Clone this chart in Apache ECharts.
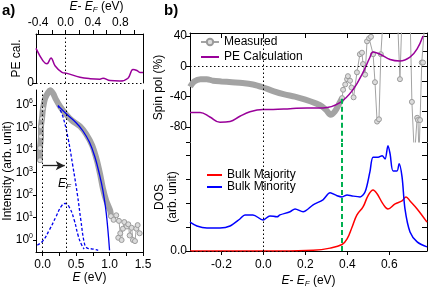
<!DOCTYPE html>
<html><head><meta charset="utf-8">
<script src="https://cdn.jsdelivr.net/npm/echarts@6/dist/echarts.min.js"></script>
<style>html,body{margin:0;padding:0;background:#fff}#c{width:436px;height:289px}</style>
</head><body><div id="c"></div>
<script>
// ---------- Panel a (top): PE calculation vs E-EF ----------
const peA_E = [-0.43,-0.328,-0.27,-0.211,-0.153,-0.051,0.022,0.211,0.357,0.503,0.547,0.649,0.794,0.911,0.984,1.042,1.086,1.13];
const peA_V = [3.6,2.3,2.0,2.6,1.8,1.1,1.0,0.6,0.45,0.4,0.5,0.25,0.2,0.5,1.4,1.3,1.1,1.1];
const aTopLabels = [-0.4,0,0.4,0.8];
const aTopTicks = [-0.4,-0.2,0,0.2,0.4,0.6,0.8,1.0];

// ---------- Panel a (bottom): intensity vs E ----------
const measA_E = [-0.04,-0.04,-0.025,-0.025,-0.01,0.005,0.035,0.08,0.11,0.155,0.2,0.26,0.35,0.44,0.56,0.65,0.74,0.81,0.86,0.9,0.95,1.01,1.02];
const measA_I = [3.5e3,1.2e4,4.0e4,1.1e5,2.5e5,6.9e5,1.9e6,3.5e6,4.4e6,3.2e6,1.7e6,8.5e5,3.8e5,2.0e5,1.1e5,5.0e4,1.6e4,3.5e3,8.0e2,2.0e2,56,20,11.5];
const tailA_E = [1.02,1.06,1.1,1.14,1.16,1.13,1.18,1.2,1.22,1.26,1.28,1.3,1.33,1.35,1.38,1.4,1.42,1.45];
const tailA_I = [11.5,7.9,12.6,7.1,2.0,1.26,1.0,3.2,6.3,4.0,5.0,1.6,3.5,1.0,0.9,3.2,4.6,2.0];
const fitA_E = [0.23,0.36,0.5,0.6,0.7,0.78,0.85,0.9,0.95,1.0];
const fitA_I = [9.3e5,3.8e5,1.6e5,7.1e4,2.2e4,5.0e3,8.0e2,1.6e2,16,0.35];
const steepA_E = [0.23,0.3,0.38,0.45,0.52,0.57,0.62,0.66,0.75,0.83];
const steepA_I = [9.3e5,3.2e5,3.2e4,2.0e3,100,7.9,0.8,0.45,0.4,0.35];
const gaussA_E = [-0.08,0.0,0.1,0.2,0.28,0.34,0.4,0.47,0.53,0.58,0.62];
const gaussA_I = [0.6,0.9,2.8,11,32,42,28,8,1.6,0.63,0.4];
const aBotLabels = [0,0.5,1.0,1.5];
const aBotTicks = [0,0.25,0.5,0.75,1.0,1.25,1.5];
const aLogTicks = [1,10,100,1e3,1e4,1e5,1e6];
const EF = 0.35;
const arrowY = 2000, arrowFrom = 0.0, arrowTo = 0.33;

// ---------- Panel b (top): spin polarisation ----------
const spin_E = [-0.35,-0.33,-0.30,-0.27,-0.24,-0.20,-0.15,-0.10,-0.05,0.0,0.05,0.10,0.15,0.20,0.25,0.28,0.30,0.32,0.34,0.36,0.375];
const spin_V = [-27,-20,-17,-17,-19,-20,-21,-22,-24,-28,-33,-37,-40,-44,-49,-53,-58,-64,-60,-50,-42];
const spinTail_E = [0.375,0.38,0.39,0.399,0.403,0.413,0.42,0.43,0.446,0.46,0.47,0.475,0.485,0.494,0.504,0.513,0.523,0.532,0.542,0.551,0.56,0.57,0.64,0.651,0.66,0.70,0.708,0.72,0.733,0.737,0.742,0.747,0.755,0.761,0.77];
const spinTail_V = [-42,-31,-24,-17,-13,-19,-28,-41,-8,16,18,3,-11,33,37,39,16,-21,-73,-70,16,60,60,-17,60,60,-47,-120,-68,-71,-120,-71,5,5,60];
const pe_E = [-0.35,-0.302,-0.255,-0.207,-0.159,-0.112,-0.064,-0.002,0.046,0.127,0.208,0.284,0.365,0.427,0.475,0.508,0.523,0.556,0.604,0.651,0.699,0.733,0.761];
const pe_V = [-61,-61,-67,-74,-73,-66,-60,-57,-57,-56,-55,-55,-48,-31,-8,12,19,16,9,7,12,23,40];
const spinLabels = [-80,-40,0,40];
const bTicks = [-0.2,0,0.2,0.4,0.6];
const greenE = 0.375, greenTop = -43;

// ---------- Panel b (bottom): DOS ----------
const min_E = [-0.35,-0.317,-0.269,-0.207,-0.159,-0.112,-0.088,-0.05,-0.002,0.031,0.065,0.079,0.127,0.151,0.189,0.237,0.284,0.318,0.351,0.375,0.399,0.423,0.461,0.485,0.508,0.523,0.547,0.566,0.58,0.594,0.604,0.618,0.637,0.647,0.661,0.675,0.699,0.733,0.78];
const min_V = [1.2,1.04,0.96,0.96,1.04,1.33,1.5,1.5,1.29,1.46,1.42,1.5,1.63,1.75,1.63,1.92,2.13,2.42,2.3,2.25,2.33,2.29,2.25,2.46,3.3,3.9,3.9,3.96,3.83,4.38,4.04,3.33,3.33,3.63,3.08,1.75,0.79,0.38,0.17];
const maj_E = [-0.35,0.079,0.237,0.318,0.375,0.399,0.423,0.446,0.475,0.499,0.523,0.542,0.57,0.594,0.628,0.661,0.68,0.699,0.733,0.78];
const maj_V = [0.0,0.0,0.03,0.12,0.27,0.5,1.0,1.5,1.83,2.3,2.54,2.38,1.96,1.75,1.96,2.08,2.25,2.08,1.75,1.2];
const dosTicks = [0,1,2,3,4];

const zip = (a,b) => a.map((v,i)=>[v,b[i]]);
const FONT = 'Liberation Sans, Arial, sans-serif';
const BLACK = '#000';
const GREY = '#a3a3a3';
const PURPLE = '#990099';
const ts = {fontFamily: FONT, fontSize: 12, color: BLACK};
const richE = {
  i:{fontFamily:FONT,fontSize:12,fontStyle:'italic',color:BLACK},
  n:{fontFamily:FONT,fontSize:12,color:BLACK},
  sub:{fontFamily:FONT,fontSize:8,fontStyle:'italic',color:BLACK,padding:[6,0,0,0]}
};
const dotted = {type:[1.5,2.5], color:BLACK, width:1};
const ml = (data, style, sym) => ({silent:true, symbol: sym || 'none', symbolSize:[7,9], label:{show:false}, animation:false, lineStyle: style || dotted, data});

const chart = echarts.init(document.getElementById('c'), null, {renderer:'canvas'});
const option = {
  animation:false,
  textStyle:{fontFamily:FONT},
  grid:[
    {left:36, top:32, width:107, height:51},
    {left:36, top:90, width:107, height:165},
    {left:190, top:33, width:237, height:109},
    {left:190, top:143, width:237, height:109}
  ],
  xAxis:[
    {gridIndex:0, type:'value', position:'top', min:-0.43, max:1.13, nameMoveOverlap:false,
     axisLine:{show:true, onZero:false, lineStyle:{color:BLACK}},
     axisTick:{show:true, inside:false, length:4, customValues:aTopTicks, lineStyle:{color:BLACK}},
     axisLabel:{customValues:aTopLabels, formatter:v=>v.toFixed(1), ...ts, margin:5},
     splitLine:{show:false},
     name:'{i|E}{n|- }{i|E}{sub|F}{n| (eV)}', nameLocation:'middle', nameGap:20,
     nameTextStyle:{rich:richE, padding:[0,0,0,14]}},
    {gridIndex:1, type:'value', position:'bottom', min:-0.1, max:1.5, nameMoveOverlap:false,
     axisLine:{show:true, onZero:false, lineStyle:{color:BLACK}},
     axisTick:{show:true, inside:false, length:4, customValues:aBotTicks, lineStyle:{color:BLACK}},
     axisLabel:{customValues:aBotLabels, formatter:v=>v.toFixed(1), ...ts, margin:7},
     splitLine:{show:false},
     name:'{i|E}{n| (eV)}', nameLocation:'middle', nameGap:20, nameTextStyle:{rich:richE}},
    {gridIndex:2, type:'value', position:'top', min:-0.35, max:0.78,
     axisLine:{show:true, onZero:false, lineStyle:{color:BLACK}},
     axisTick:{show:true, inside:true, length:5, customValues:bTicks, lineStyle:{color:BLACK}},
     axisLabel:{show:false}, splitLine:{show:false}},
    {gridIndex:3, type:'value', position:'bottom', min:-0.35, max:0.78, nameMoveOverlap:false,
     axisLine:{show:true, onZero:false, lineStyle:{color:BLACK}},
     axisTick:{show:true, inside:false, length:4, customValues:bTicks, lineStyle:{color:BLACK}},
     axisLabel:{customValues:bTicks, formatter:v=>v.toFixed(1), ...ts, margin:8},
     splitLine:{show:false},
     name:'{i|E}{n|- }{i|E}{sub|F}{n| (eV)}', nameLocation:'middle', nameGap:23, nameTextStyle:{rich:richE}}
  ],
  yAxis:[
    {gridIndex:0, type:'value', min:0, max:5.1, position:'left', nameMoveOverlap:false,
     axisLine:{show:true, onZero:false, lineStyle:{color:BLACK}},
     axisTick:{show:true, length:4, customValues:[0], lineStyle:{color:BLACK}},
     axisLabel:{customValues:[0], ...ts, margin:2}, splitLine:{show:false},
     name:'PE cal.', nameLocation:'middle', nameGap:13, nameTextStyle:{...ts}},
    {gridIndex:0, type:'value', min:0, max:5.1, position:'right',
     axisLine:{show:true, onZero:false, lineStyle:{color:BLACK}}, axisTick:{show:false}, axisLabel:{show:false}, splitLine:{show:false}},
    {gridIndex:1, type:'log', logBase:10, min:0.295, max:4.57e6, position:'left', nameMoveOverlap:false,
     axisLine:{show:true, onZero:false, lineStyle:{color:BLACK}},
     axisTick:{show:true, length:3, customValues:aLogTicks, lineStyle:{color:BLACK}},
     axisLabel:{customValues:aLogTicks, margin:3,
       formatter:v=>'{b|10}{s|'+Math.round(Math.log10(v))+'}',
       rich:{b:{fontFamily:FONT,fontSize:12,color:BLACK}, s:{fontFamily:FONT,fontSize:7,color:BLACK,padding:[0,0,7,0]}}},
     splitLine:{show:false}, minorTick:{show:false},
     name:'Intensity (arb. unit)', nameLocation:'middle', nameGap:22, nameTextStyle:{...ts}},
    {gridIndex:1, type:'value', min:0, max:1, position:'right',
     axisLine:{show:true, onZero:false, lineStyle:{color:BLACK}}, axisTick:{show:false}, axisLabel:{show:false}, splitLine:{show:false}},
    {gridIndex:2, type:'value', min:-100, max:44, interval:20, position:'left', nameMoveOverlap:false,
     axisLine:{show:true, onZero:false, lineStyle:{color:BLACK}},
     axisTick:{show:true, length:4, customValues:[-100,-80,-40,0,40], lineStyle:{color:BLACK}},
     axisLabel:{customValues:spinLabels, ...ts, margin:3}, splitLine:{show:false},
     name:'Spin pol (%)', nameLocation:'middle', nameGap:25, nameTextStyle:{...ts}},
    {gridIndex:2, type:'value', min:-100, max:44, interval:20, position:'right',
     axisLine:{show:true, onZero:false, lineStyle:{color:BLACK}},
     axisTick:{show:true, inside:true, length:5, customValues:[-100,-80,-60,-40,-20,0,20,40], lineStyle:{color:BLACK}},
     axisLabel:{show:false}, splitLine:{show:false}},
    {gridIndex:3, type:'value', min:0, max:4.49, interval:1, position:'left', nameMoveOverlap:false,
     axisLine:{show:true, onZero:false, lineStyle:{color:BLACK}},
     axisTick:{show:true, length:4, customValues:dosTicks, lineStyle:{color:BLACK}},
     axisLabel:{customValues:[0], formatter:v=>v.toFixed(1), ...ts, margin:3}, splitLine:{show:false},
     name:'DOS\n(arb. unit)', nameLocation:'middle', nameGap:11, nameTextStyle:{...ts, lineHeight:13}},
    {gridIndex:3, type:'value', min:0, max:4.49, interval:1, position:'right',
     axisLine:{show:true, onZero:false, lineStyle:{color:BLACK}},
     axisTick:{show:true, inside:true, length:5, customValues:dosTicks, lineStyle:{color:BLACK}},
     axisLabel:{show:false}, splitLine:{show:false}}
  ],
  legend:[
    {data:[{name:'Measured'},{name:'PE Calculation', itemStyle:{opacity:0}}], orient:'vertical', left:200, top:36, itemGap:3, itemWidth:18, itemHeight:8,
     textStyle:{...ts}, padding:0, selectedMode:false},
    {data:[{name:'Bulk Majority', itemStyle:{opacity:0}},{name:'Bulk Minority', itemStyle:{opacity:0}}], orient:'vertical', left:206, top:169, itemGap:0, itemWidth:15, itemHeight:8,
     textStyle:{...ts}, padding:0, selectedMode:false}
  ],
  series:[
    // panel a top
    {type:'line', xAxisIndex:0, yAxisIndex:0, data:zip(peA_E,peA_V), smooth:0.4, symbol:'none',
     lineStyle:{color:PURPLE,width:1.5}, z:3,
     markLine: ml([{xAxis:0},{yAxis:0}])},
    // panel a bottom
    {type:'line', xAxisIndex:1, yAxisIndex:2, data:zip(measA_E,measA_I), smooth:0.3, symbol:'none',
     lineStyle:{color:GREY,width:6}, z:2,
     markLine: ml([{xAxis:0},{xAxis:EF}])},
    {type:'line', xAxisIndex:1, yAxisIndex:2, data:zip(measA_E.slice(0,6),measA_I.slice(0,6)), symbol:'circle', symbolSize:5,
     showAllSymbol:true, lineStyle:{color:GREY,width:1}, itemStyle:{color:'#dcdcdc',borderColor:'#9a9a9a',borderWidth:1}, z:2},
    {type:'line', xAxisIndex:1, yAxisIndex:2, data:zip(tailA_E,tailA_I), symbol:'circle', symbolSize:5,
     showAllSymbol:true, lineStyle:{color:GREY,width:1}, itemStyle:{color:'#dcdcdc',borderColor:'#9a9a9a',borderWidth:1}, z:2},
    {type:'line', xAxisIndex:1, yAxisIndex:2, data:zip(fitA_E,fitA_I), smooth:0.4, symbol:'none',
     lineStyle:{color:'#0000ee',width:1.3}, z:4,
     markLine: ml([[{coord:[arrowFrom,arrowY]},{coord:[arrowTo,arrowY]}]], {color:'#222',width:1.3,type:'solid'}, ['none','arrow'])},
    {type:'line', xAxisIndex:1, yAxisIndex:2, data:zip(steepA_E,steepA_I), smooth:0.4, symbol:'none',
     lineStyle:{color:'#0000ee',width:1.3,type:[3,2]}, z:4},
    {type:'line', xAxisIndex:1, yAxisIndex:2, data:zip(gaussA_E,gaussA_I), smooth:0.5, symbol:'none',
     lineStyle:{color:'#0000ee',width:1.3,type:[3,2]}, z:4},
    // panel b top
    {type:'line', xAxisIndex:2, yAxisIndex:4, data:zip(spin_E,spin_V), smooth:0.3, symbol:'none',
     lineStyle:{color:GREY,width:6}, z:2,
     markLine: ml([{xAxis:0},{yAxis:0}])},
    {name:'Measured', type:'line', xAxisIndex:2, yAxisIndex:4, data:zip(spinTail_E,spinTail_V),
     symbol:'circle', symbolSize:5, showAllSymbol:true, lineStyle:{color:GREY,width:1},
     itemStyle:{color:'#dcdcdc',borderColor:'#9a9a9a',borderWidth:1}, z:2},
    {name:'PE Calculation', type:'line', xAxisIndex:2, yAxisIndex:4, data:zip(pe_E,pe_V), smooth:0.4, symbol:'none',
     lineStyle:{color:PURPLE,width:1.5}, itemStyle:{color:PURPLE}, z:4,
     markLine: ml([[{coord:[greenE,greenTop]},{coord:[greenE,-100]}]], {color:'#00b050',width:2,type:[5,3]})},
    // panel b bottom
    {name:'Bulk Majority', type:'line', xAxisIndex:3, yAxisIndex:6, data:zip(maj_E,maj_V), smooth:0.4, symbol:'none',
     lineStyle:{color:'#ff0000',width:1.5}, itemStyle:{color:'#ff0000'}, z:4,
     markLine: ml([{xAxis:0},{yAxis:0}])},
    {name:'Bulk Minority', type:'line', xAxisIndex:3, yAxisIndex:6, data:zip(min_E,min_V), smooth:0.3, symbol:'none',
     lineStyle:{color:'#0000ff',width:1.5}, itemStyle:{color:'#0000ff'}, z:4,
     markLine: ml([[{coord:[greenE,0]},{coord:[greenE,4.49]}]], {color:'#00b050',width:2,type:[5,3]})}
  ],
  graphic:[
    {type:'text', left:2, top:3, style:{text:'a)', font:'bold 15px '+FONT, fill:BLACK}},
    {type:'text', left:164, top:3, style:{text:'b)', font:'bold 15px '+FONT, fill:BLACK}},
    {type:'text', left:58, top:178, style:{text:'{i|E}{sub|F}', rich:richE}}
  ]
};
chart.setOption(option);
</script></body></html>
